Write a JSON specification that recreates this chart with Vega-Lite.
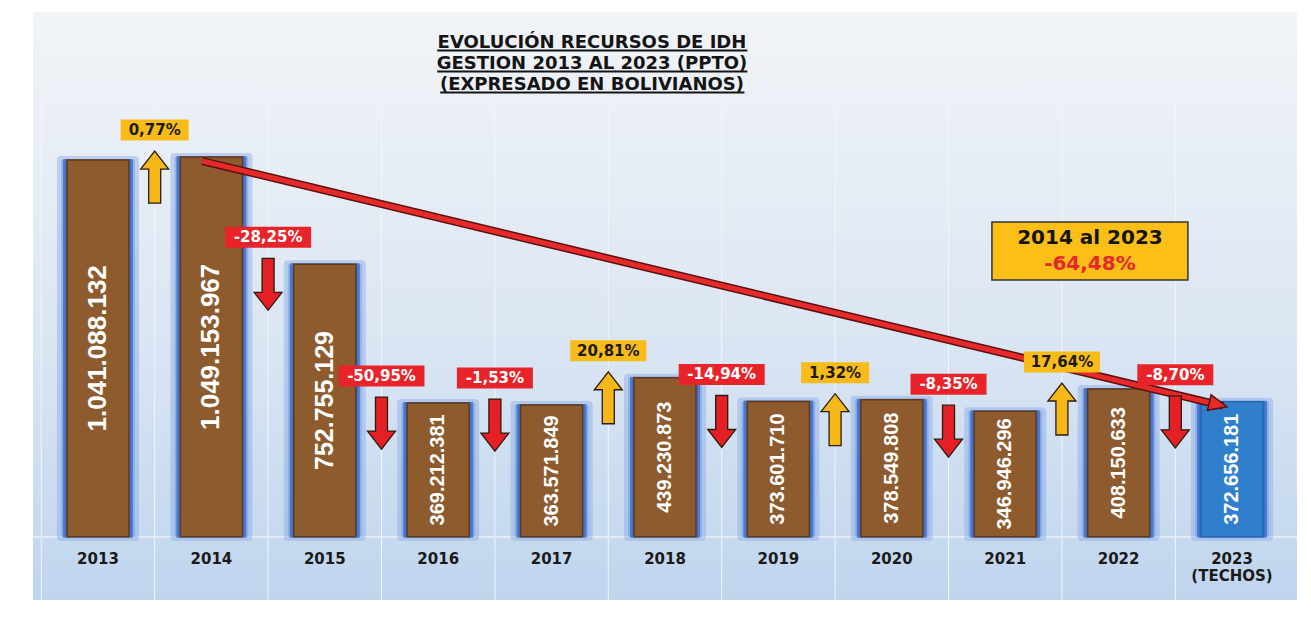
{
  "$schema": "https://vega.github.io/schema/vega-lite/v6.json",
  "width": 1264,
  "height": 588,
  "autosize": {"type": "none"},
  "padding": {"left": 33, "top": 12, "right": 14, "bottom": 23},
  "background": "#ffffff",
  "config": {
    "view": {
      "stroke": null,
      "fill": {"gradient": "linear", "x1": 0, "y1": 0, "x2": 0, "y2": 1,
        "stops": [
          {"offset": 0, "color": "#f1f3f7"},
          {"offset": 0.16, "color": "#ebf0f6"},
          {"offset": 0.55, "color": "#dbe6f3"},
          {"offset": 1, "color": "#bfd5ee"}
        ]}
    },
    "font": "DejaVu Sans",
    "locale": {"number": {"decimal": ",", "thousands": ".", "grouping": [3], "currency": ["", ""]}}
  },
  "data": {
    "values": [
      {"year": "2013", "value": 1041088132, "change": null},
      {"year": "2014", "value": 1049153967, "change": "0,77%"},
      {"year": "2015", "value": 752755129, "change": "-28,25%"},
      {"year": "2016", "value": 369212381, "change": "-50,95%"},
      {"year": "2017", "value": 363571849, "change": "-1,53%"},
      {"year": "2018", "value": 439230873, "change": "20,81%"},
      {"year": "2019", "value": 373601710, "change": "-14,94%"},
      {"year": "2020", "value": 378549808, "change": "1,32%"},
      {"year": "2021", "value": 346946296, "change": "-8,35%"},
      {"year": "2022", "value": 408150633, "change": "17,64%"},
      {"year": "2023 (TECHOS)", "value": 372656181, "change": "-8,70%"}
    ]
  },
  "resolve": {"scale": {"y": "independent"}},
  "layer": [
    {
      "layer": [
        {
          "mark": {"type": "rule", "color": "#f2f5fa", "strokeWidth": 1},
          "encoding": {
            "x": {"field": "year", "type": "nominal", "sort": null, "bandPosition": 0, "scale": {"paddingInner": 0, "paddingOuter": 0.073}, "axis": null},
            "y": {"datum": 1193000000, "type": "quantitative", "scale": {"domain": [-175000000, 1450000000], "nice": false, "zero": false}, "axis": null},
            "y2": {"datum": -175000000}
          }
        },
        {
          "mark": {"type": "rule", "color": "#e6edf6", "strokeWidth": 1},
          "encoding": {
            "y": {"datum": 0, "type": "quantitative"}
          }
        },
        {
          "data": {"values": [{}]},
          "mark": {"type": "text", "font": "DejaVu Sans", "fontWeight": "bold", "fontSize": 18, "baseline": "alphabetic", "align": "center", "lineHeight": 21, "color": "#141414"},
          "encoding": {
            "x": {"datum": "2017", "bandPosition": 0.856},
            "y": {"datum": 1350600000, "type": "quantitative"},
            "text": {"value": ["EVOLUCIÓN RECURSOS DE IDH", "GESTION 2013 AL 2023 (PPTO)", "(EXPRESADO EN BOLIVIANOS)"]}
          }
        },
        {
          "data": {"values": [{}]},
          "mark": {"type": "rule", "color": "#141414", "strokeWidth": 2, "xOffset": -1, "x2Offset": -31},
          "encoding": {
            "x": {"datum": "2016"},
            "x2": {"datum": "2019"},
            "y": {"datum": 1343700000, "type": "quantitative"}
          }
        },
        {
          "data": {"values": [{}]},
          "mark": {"type": "rule", "color": "#141414", "strokeWidth": 2, "xOffset": -1, "x2Offset": -31},
          "encoding": {
            "x": {"datum": "2016"},
            "x2": {"datum": "2019"},
            "y": {"datum": 1285600000, "type": "quantitative"}
          }
        },
        {
          "data": {"values": [{}]},
          "mark": {"type": "rule", "color": "#141414", "strokeWidth": 2, "xOffset": 2, "x2Offset": -34},
          "encoding": {
            "x": {"datum": "2016"},
            "x2": {"datum": "2019"},
            "y": {"datum": 1227600000, "type": "quantitative"}
          }
        },
        {
          "mark": {"type": "bar", "size": 74, "color": "#6a92dc", "opacity": 0.7, "stroke": "#85a7e4", "strokeWidth": 8, "strokeOpacity": 0.6, "strokeJoin": "round"},
          "encoding": {
            "x": {"field": "year", "type": "nominal", "sort": null},
            "y": {"field": "value", "type": "quantitative"}
          }
        },
        {
          "mark": {"type": "bar", "size": 68, "color": "#3f6fcc", "opacity": 1, "stroke": "#4a7ad2", "strokeWidth": 2, "strokeJoin": "round"},
          "encoding": {
            "x": {"field": "year", "type": "nominal", "sort": null},
            "y": {"field": "value", "type": "quantitative"}
          }
        },
        {
          "mark": {"type": "bar", "size": 62, "strokeWidth": 1.5},
          "encoding": {
            "x": {"field": "year", "type": "nominal", "sort": null},
            "y": {"field": "value", "type": "quantitative"},
            "color": {"condition": {"test": "datum.year == '2023 (TECHOS)'", "value": "#2f7fcd"}, "value": "#8d5b2e"},
            "stroke": {"condition": {"test": "datum.year == '2023 (TECHOS)'", "value": "#2567b0"}, "value": "#5f3b1a"}
          }
        },
        {
          "transform": [{"filter": "datum.year == '2014' || datum.year == '2023 (TECHOS)'"}],
          "mark": {"type": "line", "color": "#5a1010", "strokeWidth": 8, "yOffset": 4},
          "encoding": {
            "x": {"field": "year", "type": "nominal", "sort": null, "bandPosition": 0.42},
            "y": {"field": "value", "type": "quantitative"}
          }
        },
        {
          "transform": [{"filter": "datum.year == '2014' || datum.year == '2023 (TECHOS)'"}],
          "mark": {"type": "line", "color": "#e62a2a", "strokeWidth": 5, "yOffset": 4},
          "encoding": {
            "x": {"field": "year", "type": "nominal", "sort": null, "bandPosition": 0.42},
            "y": {"field": "value", "type": "quantitative"}
          }
        },
        {
          "transform": [{"filter": "datum.year == '2023 (TECHOS)'"}],
          "mark": {"type": "point", "filled": true, "opacity": 1, "size": 4, "shape": "M4,0L-14,-8L-14,8Z", "angle": 13.45, "color": "#e62a2a", "stroke": "#5a1010", "strokeWidth": 1.5, "yOffset": 4},
          "encoding": {
            "x": {"field": "year", "type": "nominal", "sort": null, "bandPosition": 0.42},
            "y": {"field": "value", "type": "quantitative"}
          }
        },
        {
          "transform": [{"filter": "datum.change != null"}],
          "mark": {"type": "point", "filled": true, "opacity": 1, "size": 4, "strokeWidth": 0, "yOffset": -27},
          "encoding": {
            "x": {"field": "year", "type": "nominal", "sort": null, "bandPosition": 0},
            "y": {"field": "value", "type": "quantitative"},
            "shape": {"condition": [
              {"test": "length(datum.change) == 5", "value": "M-34,-10.5H34V10.5H-34Z"},
              {"test": "length(datum.change) == 6", "value": "M-38,-10.5H38V10.5H-38Z"}
            ], "value": "M-43,-10.5H43V10.5H-43Z"},
            "color": {"condition": {"test": "indexof(datum.change, '-') == 0", "value": "#e8232a"}, "value": "#f8bb17"}
          }
        },
        {
          "transform": [{"filter": "datum.change != null"}],
          "mark": {"type": "text", "font": "DejaVu Sans", "fontWeight": "bold", "fontSize": 15, "baseline": "middle", "align": "center", "yOffset": -27},
          "encoding": {
            "x": {"field": "year", "type": "nominal", "sort": null, "bandPosition": 0},
            "y": {"field": "value", "type": "quantitative"},
            "text": {"field": "change"},
            "color": {"condition": {"test": "indexof(datum.change, '-') == 0", "value": "#ffffff"}, "value": "#1a1a1a"}
          }
        },
        {
          "transform": [{"filter": "datum.change != null"}],
          "mark": {"type": "point", "filled": true, "opacity": 1, "size": 4, "stroke": "#2a1c0c", "strokeWidth": 1.3, "yOffset": 20},
          "encoding": {
            "x": {"field": "year", "type": "nominal", "sort": null, "bandPosition": 0},
            "y": {"field": "value", "type": "quantitative"},
            "shape": {"condition": {"test": "indexof(datum.change, '-') == 0", "value": "M-6,-26H6V8H14L0,26L-14,8H-6Z"}, "value": "M-6,26H6V-8H14L0,-26L-14,-8H-6Z"},
            "fill": {"condition": {"test": "indexof(datum.change, '-') == 0", "value": "#e51f26"}, "value": "#f6b819"}
          }
        },
        {
          "mark": {"type": "text", "font": "DejaVu Sans", "fontWeight": "bold", "fontSize": 15, "baseline": "top", "align": "center", "lineBreak": " ", "lineHeight": 17, "color": "#1a1a1a"},
          "encoding": {
            "x": {"field": "year", "type": "nominal", "sort": null},
            "y": {"datum": -42300000, "type": "quantitative"},
            "text": {"field": "year"}
          }
        },
        {
          "data": {"values": [{}]},
          "mark": {"type": "point", "filled": true, "opacity": 1, "size": 4, "shape": "M-98,-29H98V29H-98Z", "color": "#fbbf18", "stroke": "#333333", "strokeWidth": 1.5},
          "encoding": {
            "x": {"datum": "2022", "bandPosition": 0.247},
            "y": {"datum": 789600000, "type": "quantitative"}
          }
        },
        {
          "data": {"values": [{}]},
          "mark": {"type": "text", "font": "DejaVu Sans", "fontWeight": "bold", "fontSize": 20, "baseline": "middle", "align": "center", "color": "#141414"},
          "encoding": {
            "x": {"datum": "2022", "bandPosition": 0.247},
            "y": {"datum": 825500000, "type": "quantitative"},
            "text": {"value": "2014 al 2023"}
          }
        },
        {
          "data": {"values": [{}]},
          "mark": {"type": "text", "font": "DejaVu Sans", "fontWeight": "bold", "fontSize": 20, "baseline": "middle", "align": "center", "color": "#e8262b"},
          "encoding": {
            "x": {"datum": "2022", "bandPosition": 0.247},
            "y": {"datum": 753600000, "type": "quantitative"},
            "text": {"value": "-64,48%"}
          }
        }
      ]
    },
    {
      "mark": {"type": "text", "font": "Liberation Sans", "fontWeight": "bold", "angle": 270, "align": "center", "baseline": "middle", "color": "#ffffff"},
      "encoding": {
        "x": {"field": "year", "type": "nominal", "sort": null},
        "y": {"field": "value", "type": "quantitative", "scale": {"domain": [-350000000, 2900000000], "nice": false, "zero": false}, "axis": null},
        "text": {"field": "value", "type": "quantitative", "format": ",d"},
        "size": {"condition": [
          {"test": "datum.value > 1000000000", "value": 26},
          {"test": "datum.value > 700000000", "value": 25}
        ], "value": 20}
      }
    }
  ]
}
